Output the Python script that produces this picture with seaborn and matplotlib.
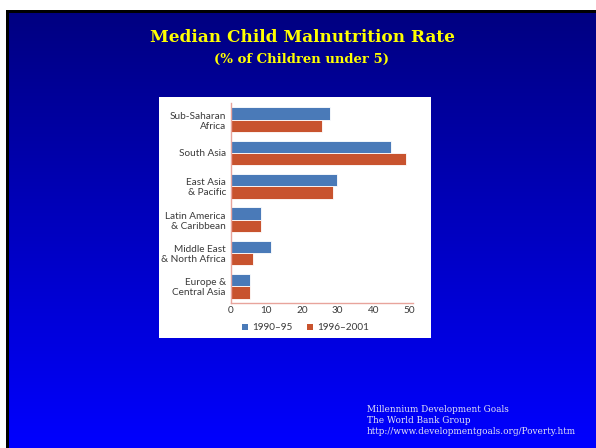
import numpy as np
import pandas as pd
import matplotlib
matplotlib.use("Agg")
import matplotlib.pyplot as plt
import seaborn as sns
from matplotlib.patches import Rectangle, Patch
from matplotlib.colors import LinearSegmentedColormap

# ---- data -------------------------------------------------------------
regions = ["Sub-Saharan\nAfrica", "South Asia", "East Asia\n& Pacific",
           "Latin America\n& Caribbean", "Middle East\n& North Africa",
           "Europe &\nCentral Asia"]
periods = ["1990\u201395", "1996\u20132001"]
rate_1990_95 = [27.7, 44.9, 29.7, 8.4, 11.4, 5.3]
rate_1996_2001 = [25.7, 49.0, 28.8, 8.4, 6.3, 5.3]
x_ticks = [0, 10, 20, 30, 40, 50]

title = "Median Child Malnutrition Rate"
subtitle = "(% of Children under 5)"
source_lines = ["Millennium Development Goals",
                "The World Bank Group",
                "http://www.developmentgoals.org/Poverty.htm"]

df = pd.DataFrame({
    "region": regions * 2,
    "rate": rate_1990_95 + rate_1996_2001,
    "period": [periods[0]] * len(regions) + [periods[1]] * len(regions),
})

BLUE = "#4a7ab8"
RED = "#c8532e"
AXIS_COLOR = "#e8a49c"
LABEL_COLOR = "#3a3a3a"

# ---- figure in pixel units --------------------------------------------
W, H = 596, 448
fig = plt.figure(figsize=(W / 100, H / 100), dpi=100)
fig.patch.set_facecolor("white")


def px_rect(x0, y0, x1, y1):
    """Pixel box (origin top-left) -> figure-fraction rect."""
    return [x0 / W, 1 - y1 / H, (x1 - x0) / W, (y1 - y0) / H]


# slide background: vertical navy -> blue gradient
bg = fig.add_axes(px_rect(6, 10, W, H))
grad = np.linspace(0, 1, 256)[:, None]
cmap = LinearSegmentedColormap.from_list("slide", ["#000080", "#0000ff"])
bg.imshow(grad, aspect="auto", cmap=cmap, extent=[0, 1, 0, 1])
bg.set_axis_off()

# dark edge along the top and left of the slide
for box in [(6, 10, W, 13), (6, 10, 9, H)]:
    r = px_rect(*box)
    fig.patches.append(Rectangle((r[0], r[1]), r[2], r[3], transform=fig.transFigure,
                                 facecolor="#000000", edgecolor="none", zorder=1))

# white chart panel
r = px_rect(159, 97, 431, 338)
fig.patches.append(Rectangle((r[0], r[1]), r[2], r[3], transform=fig.transFigure,
                             facecolor="white", edgecolor="none", zorder=1))

# ---- titles ------------------------------------------------------------
fig.text(302 / W, 1 - 41.7 / H, title, ha="center", va="baseline",
         color="#ffff00", fontfamily="DejaVu Serif", fontweight="bold",
         fontsize=12.2, zorder=3)
fig.text(302 / W, 1 - 62.7 / H, subtitle, ha="center", va="baseline",
         color="#ffff00", fontfamily="DejaVu Serif", fontweight="bold",
         fontsize=9.5, zorder=3)

# ---- bar chart ---------------------------------------------------------
ax = fig.add_axes(px_rect(230.7, 103, 412.7, 303), zorder=2)
ax.set_facecolor("none")
sns.barplot(data=df, y="region", x="rate", hue="period", orient="h",
            palette=[BLUE, RED], saturation=1, width=0.74,
            edgecolor="white", linewidth=0.6, legend=False, ax=ax)

ax.set_xlim(0, 51)
ax.set_ylim(5.5, -0.5)
ax.set_xticks(x_ticks)
ax.set_xlabel("")
ax.set_ylabel("")
for side in ["top", "right"]:
    ax.spines[side].set_visible(False)
for side in ["left", "bottom"]:
    ax.spines[side].set_color(AXIS_COLOR)
    ax.spines[side].set_linewidth(1.0)
ax.tick_params(axis="both", length=0, labelsize=7.2, labelcolor=LABEL_COLOR)
ax.tick_params(axis="y", pad=3.4)
ax.tick_params(axis="x", pad=2.5)
for lab in ax.get_yticklabels() + ax.get_xticklabels():
    lab.set_fontfamily("Lato")
for lab in ax.get_yticklabels():
    lab.set_linespacing(1.15)

handles = [Patch(facecolor=BLUE, edgecolor="none"),
           Patch(facecolor=RED, edgecolor="none")]
leg = ax.legend(handles, periods, loc="center", bbox_to_anchor=(0.411, -0.124),
                ncol=2, frameon=False, handlelength=0.6, handleheight=0.6,
                handletextpad=0.4, columnspacing=1.45,
                prop={"family": "Lato", "size": 7.2})
for t in leg.get_texts():
    t.set_color(LABEL_COLOR)

# ---- source note --------------------------------------------------------
for i, line in enumerate(source_lines):
    fig.text(367 / W, 1 - (411.7 + 11.3 * i) / H, line, ha="left", va="baseline",
             color="#e4e4f4", fontfamily="DejaVu Serif", fontsize=6.4, zorder=3)

fig.savefig("out.png", dpi=100)
